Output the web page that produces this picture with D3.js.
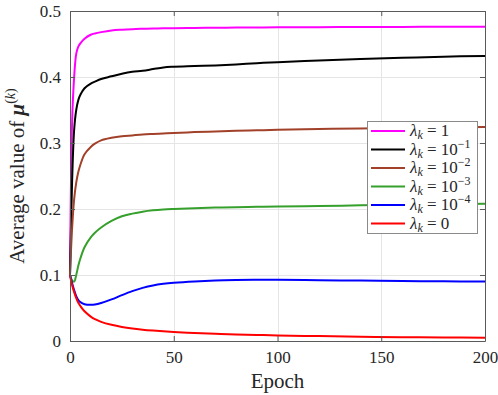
<!DOCTYPE html>
<html>
<head>
<meta charset="utf-8">
<script src="https://cdn.jsdelivr.net/npm/d3@7"></script>
</head>
<body style="margin:0">
<script>

const epochs = [0, 1, 2, 3, 4, 5, 7, 10, 12, 15, 20, 25, 30, 35, 40, 45, 50, 60, 70, 80, 90, 100, 120, 140, 160, 180, 200];

// One series per lambda value
const lambda1 = [0.1, 0.33, 0.40, 0.435, 0.446, 0.451, 0.458, 0.464, 0.466, 0.468, 0.4705, 0.4717, 0.4725, 0.473, 0.4734, 0.4737, 0.474, 0.4744, 0.4747, 0.4749, 0.4751, 0.4752, 0.4755, 0.4757, 0.4759, 0.476, 0.4761];
const lambda1e1 = [0.1, 0.24, 0.32, 0.35, 0.365, 0.373, 0.383, 0.39, 0.393, 0.397, 0.401, 0.405, 0.408, 0.4095, 0.412, 0.4145, 0.4155, 0.4165, 0.4175, 0.419, 0.421, 0.4225, 0.425, 0.4272, 0.429, 0.4307, 0.432];
const lambda1e2 = [0.1, 0.17, 0.215, 0.24, 0.256, 0.267, 0.283, 0.294, 0.299, 0.304, 0.3078, 0.3102, 0.3115, 0.3128, 0.3137, 0.3145, 0.3152, 0.3165, 0.3175, 0.3184, 0.3192, 0.3199, 0.3211, 0.3221, 0.323, 0.3237, 0.3243];
const lambda1e3 = [0.1, 0.092, 0.09, 0.1, 0.114, 0.125, 0.142, 0.157, 0.164, 0.172, 0.182, 0.189, 0.193, 0.196, 0.198, 0.1992, 0.2, 0.2013, 0.2022, 0.2028, 0.2033, 0.2037, 0.2046, 0.2055, 0.2065, 0.2073, 0.208];
const lambda1e4 = [0.1, 0.088, 0.077, 0.068, 0.062, 0.059, 0.0558, 0.0548, 0.0552, 0.0575, 0.063, 0.0695, 0.0755, 0.0805, 0.0842, 0.0866, 0.0882, 0.0903, 0.0917, 0.0924, 0.0927, 0.0927, 0.0922, 0.0915, 0.0909, 0.0904, 0.09];
const lambda0 = [0.1, 0.085, 0.074, 0.065, 0.058, 0.053, 0.045, 0.037, 0.033, 0.029, 0.0245, 0.0212, 0.0188, 0.0171, 0.0158, 0.0147, 0.0137, 0.0122, 0.011, 0.01, 0.0092, 0.0085, 0.0074, 0.0065, 0.0058, 0.0053, 0.005];

// Legend labels: exponent of 10, or the plain value
const seriesNames = ["1", "-1", "-2", "-3", "-4", "0"];
const seriesValues = [lambda1, lambda1e1, lambda1e2, lambda1e3, lambda1e4, lambda0];
const seriesColors = ["#ff00ff", "#000000", "#a2412a", "#36a02c", "#0000ff", "#ff0000"];

const xTicks = [0, 50, 100, 150, 200];
const yTicks = [0, 0.1, 0.2, 0.3, 0.4, 0.5];


const WIDTH = 498, HEIGHT = 395;
const PLOT_LEFT = 70, PLOT_RIGHT = 485, PLOT_TOP = 11, PLOT_BOTTOM = 341;
const AXIS_COLOR = "#5a5a5a";
const TEXT_COLOR = "#262626";
const FONT = "'Liberation Serif', 'DejaVu Serif', serif";

let svg = d3.select("body").append("svg")
    .attr("width", WIDTH)
    .attr("height", HEIGHT);

svg.append("rect").attr("width", WIDTH).attr("height", HEIGHT).attr("fill", "#fff");

let x = d3.scaleLinear().domain([0, 200]).range([PLOT_LEFT, PLOT_RIGHT]);
let y = d3.scaleLinear().domain([0, 0.5]).range([PLOT_BOTTOM, PLOT_TOP]);

// grid lines
let grid = svg.append("g").attr("stroke", "#e5e5e5").attr("stroke-width", 1);
grid.selectAll("line.vx")
    .data(xTicks)
    .enter()
    .append("line")
        .attr("x1", d => Math.round(x(d)) + 0.5).attr("x2", d => Math.round(x(d)) + 0.5)
        .attr("y1", PLOT_TOP).attr("y2", PLOT_BOTTOM);
grid.selectAll("line.hy")
    .data(yTicks)
    .enter()
    .append("line")
        .attr("y1", d => Math.round(y(d)) + 0.5).attr("y2", d => Math.round(y(d)) + 0.5)
        .attr("x1", PLOT_LEFT).attr("x2", PLOT_RIGHT);

// curves
let line = d3.line()
    .x((d, i) => x(epochs[i]))
    .y(d => y(d))
    .curve(d3.curveCatmullRom.alpha(0.5));

let plot = svg.append("g");
plot.selectAll("path")
    .data(seriesValues)
    .enter()
    .append("path")
        .attr("d", d => line(d))
        .attr("fill", "none")
        .attr("stroke", (d, i) => seriesColors[i])
        .attr("stroke-width", 2)
        .attr("stroke-linejoin", "round");

// axes (MATLAB style: ticks inside, box on)
let axisBottom = d3.axisBottom(x).tickValues(xTicks).tickSizeInner(-5).tickSizeOuter(0).tickPadding(10);
let axisTop = d3.axisTop(x).tickValues(xTicks).tickSizeInner(-5).tickSizeOuter(0).tickFormat("");
let axisLeft = d3.axisLeft(y).tickValues(yTicks).tickSizeInner(-5).tickSizeOuter(0).tickPadding(9)
    .tickFormat(d => d === 0 ? "0" : d3.format(".1f")(d));
let axisRight = d3.axisRight(y).tickValues(yTicks).tickSizeInner(-5).tickSizeOuter(0).tickFormat("");

// serif everywhere, forced over any other stylesheet
function serif(sel, size)
{
  sel.style("font-family", FONT, "important");
  if (size) sel.style("font-size", size + "px", "important");
  return sel;
}

function styleAxis(g)
{
  g.attr("font-family", null).attr("font-size", null);
  g.selectAll("path.domain").attr("stroke", AXIS_COLOR);
  g.selectAll("line").attr("stroke", AXIS_COLOR);
  serif(g.selectAll("text"), 17).attr("fill", TEXT_COLOR);
}

svg.append("g").attr("transform", "translate(0," + PLOT_BOTTOM + ")").call(axisBottom).call(styleAxis);
svg.append("g").attr("transform", "translate(0," + PLOT_TOP + ")").call(axisTop).call(styleAxis);
svg.append("g").attr("transform", "translate(" + PLOT_LEFT + ",0)").call(axisLeft).call(styleAxis);
svg.append("g").attr("transform", "translate(" + PLOT_RIGHT + ",0)").call(axisRight).call(styleAxis);

// axis labels
serif(svg.append("text"), 21)
    .attr("x", (PLOT_LEFT + PLOT_RIGHT) / 2)
    .attr("y", 388)
    .attr("text-anchor", "middle")
    .attr("fill", TEXT_COLOR)
    .text("Epoch");

let ylab = serif(svg.append("text"), 21)
    .attr("transform", "translate(24," + ((PLOT_TOP + PLOT_BOTTOM) / 2) + ") rotate(-90)")
    .attr("text-anchor", "middle")
    .attr("fill", TEXT_COLOR);
serif(ylab.append("tspan")).text("Average value of ");
serif(ylab.append("tspan")).attr("font-weight", "bold").attr("font-style", "italic").text("μ");
serif(ylab.append("tspan"), 14).attr("dy", -9).text("(");
serif(ylab.append("tspan"), 14).attr("font-style", "italic").text("k");
serif(ylab.append("tspan"), 14).text(")");

// legend
const LEG_X = 367, LEG_Y = 121, LEG_W = 110, LEG_H = 112, LEG_ROW = 18.5;

let legend = svg.append("g").attr("transform", "translate(" + LEG_X + "," + LEG_Y + ")");
legend.append("rect")
    .attr("x", 0.5).attr("y", 0.5)
    .attr("width", LEG_W).attr("height", LEG_H)
    .attr("fill", "#fff")
    .attr("stroke", "#8a8a8a")
    .attr("stroke-width", 1);

let items = legend.selectAll("g.item")
    .data(seriesNames)
    .enter()
    .append("g")
        .attr("transform", (d, i) => "translate(0," + (10 + i * LEG_ROW) + ")");

items.append("line")
    .attr("x1", 4).attr("x2", 38)
    .attr("y1", 0).attr("y2", 0)
    .attr("stroke", (d, i) => seriesColors[i])
    .attr("stroke-width", 2);

items.each(function (d)
{
  let t = serif(d3.select(this).append("text"), 17)
      .attr("x", 43)
      .attr("y", 5)
      .attr("fill", TEXT_COLOR);
  serif(t.append("tspan")).attr("font-style", "italic").text("λ");
  serif(t.append("tspan"), 12).attr("font-style", "italic").attr("dy", 3).text("k");
  if (d === "1" || d === "0")
  {
    serif(t.append("tspan")).attr("dy", -3).text(" = " + d);
  }
  else
  {
    serif(t.append("tspan")).attr("dy", -3).text(" = 10");
    serif(t.append("tspan"), 12).attr("dy", -7).text(d.replace("-", "−"));
  }
});

</script>
</body>
</html>
